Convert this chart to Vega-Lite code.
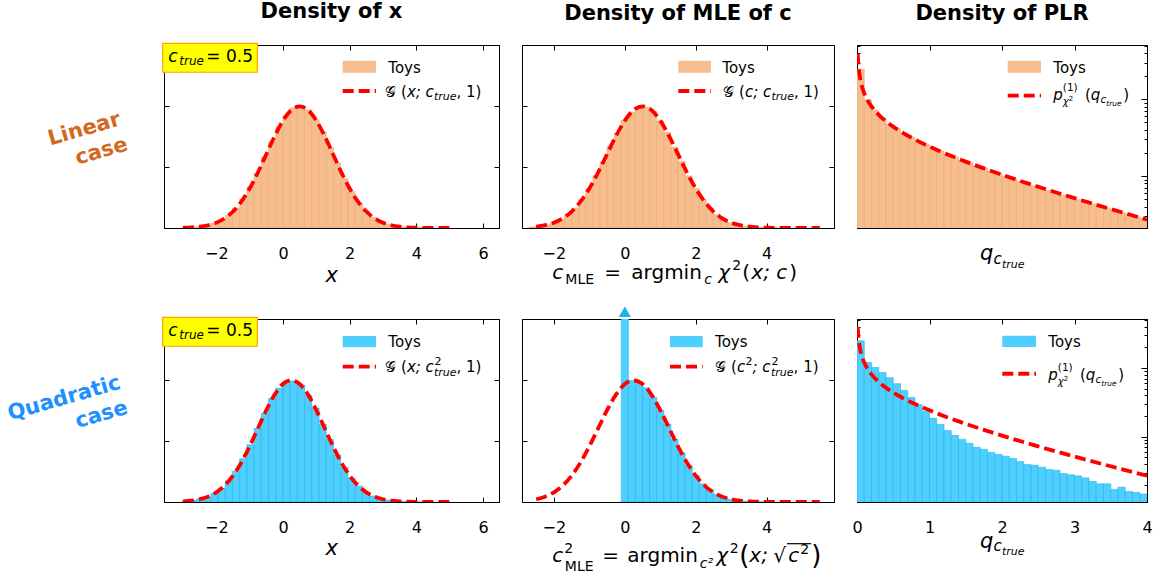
{
"$schema":"https://vega.github.io/schema/vega-lite/v6.json",
"padding":{"left":4,"top":0,"right":0,"bottom":0},
"background":"white",
"config":{
 "font":"DejaVu Sans",
 "view":{"stroke":"black","strokeWidth":1},
 "axis":{"domain":true,"domainColor":"black","domainWidth":1,"grid":false,"tickColor":"black","tickWidth":1,"tickSize":-5,"labelPadding":22,"labelFontSize":16,"labelFont":"DejaVu Sans","labelColor":"black","labelFlush":false,"labelOverlap":false,"zindex":1},
 "text":{"fill":"black","font":"DejaVu Sans"},
 "title":{"font":"DejaVu Sans","fontSize":21,"fontWeight":"bold","color":"black"}
},
"datasets":{
 "h1":[{"a":-3.031,"b":-2.815,"d":0.0013},{"a":-2.815,"b":-2.598,"d":0.0025},{"a":-2.598,"b":-2.382,"d":0.0047},{"a":-2.382,"b":-2.165,"d":0.0083},{"a":-2.165,"b":-1.949,"d":0.0155},{"a":-1.949,"b":-1.732,"d":0.0262},{"a":-1.732,"b":-1.516,"d":0.0412},{"a":-1.516,"b":-1.299,"d":0.0652},{"a":-1.299,"b":-1.083,"d":0.0948},{"a":-1.083,"b":-0.866,"d":0.1352},{"a":-0.866,"b":-0.65,"d":0.1801},{"a":-0.65,"b":-0.433,"d":0.2335},{"a":-0.433,"b":-0.217,"d":0.2826},{"a":-0.217,"b":0,"d":0.3331},{"a":0,"b":0.217,"d":0.3683},{"a":0.217,"b":0.433,"d":0.3941},{"a":0.433,"b":0.65,"d":0.3972},{"a":0.65,"b":0.866,"d":0.387},{"a":0.866,"b":1.083,"d":0.3551},{"a":1.083,"b":1.299,"d":0.3152},{"a":1.299,"b":1.516,"d":0.263},{"a":1.516,"b":1.732,"d":0.2133},{"a":1.732,"b":1.949,"d":0.1618},{"a":1.949,"b":2.165,"d":0.1195},{"a":2.165,"b":2.382,"d":0.0821},{"a":2.382,"b":2.598,"d":0.0556},{"a":2.598,"b":2.815,"d":0.0347},{"a":2.815,"b":3.031,"d":0.0215},{"a":3.031,"b":3.248,"d":0.0121},{"a":3.248,"b":3.464,"d":0.0069},{"a":3.464,"b":3.681,"d":0.0035},{"a":3.681,"b":3.897,"d":0.0018},{"a":3.897,"b":4.114,"d":0.0009},{"a":4.114,"b":4.33,"d":0.0004},{"a":4.33,"b":4.547,"d":0.0002}],
 "h4":[{"a":-3.031,"b":-2.815,"d":0.0027},{"a":-2.815,"b":-2.598,"d":0.005},{"a":-2.598,"b":-2.382,"d":0.0094},{"a":-2.382,"b":-2.165,"d":0.0163},{"a":-2.165,"b":-1.949,"d":0.0282},{"a":-1.949,"b":-1.732,"d":0.0446},{"a":-1.732,"b":-1.516,"d":0.0694},{"a":-1.516,"b":-1.299,"d":0.1005},{"a":-1.299,"b":-1.083,"d":0.142},{"a":-1.083,"b":-0.866,"d":0.1878},{"a":-0.866,"b":-0.65,"d":0.2411},{"a":-0.65,"b":-0.433,"d":0.2905},{"a":-0.433,"b":-0.217,"d":0.3392},{"a":-0.217,"b":0,"d":0.373},{"a":0,"b":0.217,"d":0.3958},{"a":0.217,"b":0.433,"d":0.3969},{"a":0.433,"b":0.65,"d":0.3835},{"a":0.65,"b":0.866,"d":0.3495},{"a":0.866,"b":1.083,"d":0.308},{"a":1.083,"b":1.299,"d":0.2551},{"a":1.299,"b":1.516,"d":0.2051},{"a":1.516,"b":1.732,"d":0.1545},{"a":1.732,"b":1.949,"d":0.1133},{"a":1.949,"b":2.165,"d":0.0776},{"a":2.165,"b":2.382,"d":0.0519},{"a":2.382,"b":2.598,"d":0.0322},{"a":2.598,"b":2.815,"d":0.0197},{"a":2.815,"b":3.031,"d":0.0111},{"a":3.031,"b":3.248,"d":0.0062},{"a":3.248,"b":3.464,"d":0.0032},{"a":3.464,"b":3.681,"d":0.0016},{"a":3.681,"b":3.897,"d":0.0008},{"a":3.897,"b":4.114,"d":0.0004},{"a":4.114,"b":4.33,"d":0.0002}],
 "h2":[{"a":-2.7,"b":-2.5,"d":0.0034},{"a":-2.5,"b":-2.3,"d":0.0061},{"a":-2.3,"b":-2.1,"d":0.0102},{"a":-2.1,"b":-1.9,"d":0.0178},{"a":-1.9,"b":-1.7,"d":0.028},{"a":-1.7,"b":-1.5,"d":0.0445},{"a":-1.5,"b":-1.3,"d":0.065},{"a":-1.3,"b":-1.1,"d":0.0946},{"a":-1.1,"b":-0.9,"d":0.1288},{"a":-0.9,"b":-0.7,"d":0.1722},{"a":-0.7,"b":-0.5,"d":0.217},{"a":-0.5,"b":-0.3,"d":0.2672},{"a":-0.3,"b":-0.1,"d":0.311},{"a":-0.1,"b":0.1,"d":0.3535},{"a":0.1,"b":0.3,"d":0.3802},{"a":0.3,"b":0.5,"d":0.3982},{"a":0.5,"b":0.7,"d":0.3961},{"a":0.7,"b":0.9,"d":0.3826},{"a":0.9,"b":1.1,"d":0.3508},{"a":1.1,"b":1.3,"d":0.3135},{"a":1.3,"b":1.5,"d":0.265},{"a":1.5,"b":1.7,"d":0.2188},{"a":1.7,"b":1.9,"d":0.1705},{"a":1.9,"b":2.1,"d":0.1301},{"a":2.1,"b":2.3,"d":0.0935},{"a":2.3,"b":2.5,"d":0.066},{"a":2.5,"b":2.7,"d":0.0437},{"a":2.7,"b":2.9,"d":0.0285},{"a":2.9,"b":3.1,"d":0.0173},{"a":3.1,"b":3.3,"d":0.0105},{"a":3.3,"b":3.5,"d":0.0059},{"a":3.5,"b":3.7,"d":0.0034},{"a":3.7,"b":3.9,"d":0.0017},{"a":3.9,"b":4.1,"d":0.0008},{"a":4.1,"b":4.3,"d":0.0004}],
 "h5":[{"a":-0.1,"b":0.1,"d":2.2},{"a":0.1,"b":0.3,"d":0.3979},{"a":0.3,"b":0.5,"d":0.395},{"a":0.5,"b":0.7,"d":0.3745},{"a":0.7,"b":0.9,"d":0.3436},{"a":0.9,"b":1.1,"d":0.3002},{"a":1.1,"b":1.3,"d":0.255},{"a":1.3,"b":1.5,"d":0.2052},{"a":1.5,"b":1.7,"d":0.161},{"a":1.7,"b":1.9,"d":0.1196},{"a":1.9,"b":2.1,"d":0.0868},{"a":2.1,"b":2.3,"d":0.0593},{"a":2.3,"b":2.5,"d":0.0398},{"a":2.5,"b":2.7,"d":0.025},{"a":2.7,"b":2.9,"d":0.0156},{"a":2.9,"b":3.1,"d":0.009},{"a":3.1,"b":3.3,"d":0.0052},{"a":3.3,"b":3.5,"d":0.0028},{"a":3.5,"b":3.7,"d":0.0015},{"a":3.7,"b":3.9,"d":0.0007},{"a":3.9,"b":4.1,"d":0.0003}],
 "h3":[{"a":0,"b":0.1,"d":2.47},{"a":0.1,"b":0.2,"d":0.985},{"a":0.2,"b":0.3,"d":0.722},{"a":0.3,"b":0.4,"d":0.571},{"a":0.4,"b":0.5,"d":0.469},{"a":0.5,"b":0.6,"d":0.412},{"a":0.6,"b":0.7,"d":0.353},{"a":0.7,"b":0.8,"d":0.321},{"a":0.8,"b":0.9,"d":0.279},{"a":0.9,"b":1.0,"d":0.257},{"a":1.0,"b":1.1,"d":0.228},{"a":1.1,"b":1.2,"d":0.212},{"a":1.2,"b":1.3,"d":0.189},{"a":1.3,"b":1.4,"d":0.176},{"a":1.4,"b":1.5,"d":0.159},{"a":1.5,"b":1.6,"d":0.149},{"a":1.6,"b":1.7,"d":0.135},{"a":1.7,"b":1.8,"d":0.127},{"a":1.8,"b":1.9,"d":0.115},{"a":1.9,"b":2.0,"d":0.109},{"a":2.0,"b":2.1,"d":0.0995},{"a":2.1,"b":2.2,"d":0.0935},{"a":2.2,"b":2.3,"d":0.0858},{"a":2.3,"b":2.4,"d":0.081},{"a":2.4,"b":2.5,"d":0.0742},{"a":2.5,"b":2.6,"d":0.0703},{"a":2.6,"b":2.7,"d":0.0647},{"a":2.7,"b":2.8,"d":0.0612},{"a":2.8,"b":2.9,"d":0.0563},{"a":2.9,"b":3.0,"d":0.0535},{"a":3.0,"b":3.1,"d":0.0492},{"a":3.1,"b":3.2,"d":0.0469},{"a":3.2,"b":3.3,"d":0.0432},{"a":3.3,"b":3.4,"d":0.0411},{"a":3.4,"b":3.5,"d":0.038},{"a":3.5,"b":3.6,"d":0.0362},{"a":3.6,"b":3.7,"d":0.0334},{"a":3.7,"b":3.8,"d":0.0318},{"a":3.8,"b":3.9,"d":0.0294},{"a":3.9,"b":4.0,"d":0.0281}],
 "h6":[{"a":0,"b":0.1,"d":2.49},{"a":0.1,"b":0.2,"d":1.205},{"a":0.2,"b":0.3,"d":1.02},{"a":0.3,"b":0.4,"d":0.86},{"a":0.4,"b":0.5,"d":0.723},{"a":0.5,"b":0.6,"d":0.592},{"a":0.6,"b":0.7,"d":0.472},{"a":0.7,"b":0.8,"d":0.371},{"a":0.8,"b":0.9,"d":0.292},{"a":0.9,"b":1.0,"d":0.235},{"a":1.0,"b":1.1,"d":0.185},{"a":1.1,"b":1.2,"d":0.151},{"a":1.2,"b":1.3,"d":0.123},{"a":1.3,"b":1.4,"d":0.104},{"a":1.4,"b":1.5,"d":0.0914},{"a":1.5,"b":1.6,"d":0.08},{"a":1.6,"b":1.7,"d":0.07},{"a":1.7,"b":1.8,"d":0.0654},{"a":1.8,"b":1.9,"d":0.0592},{"a":1.9,"b":2.0,"d":0.0554},{"a":2.0,"b":2.1,"d":0.052},{"a":2.1,"b":2.2,"d":0.048},{"a":2.2,"b":2.3,"d":0.0434},{"a":2.3,"b":2.4,"d":0.0393},{"a":2.4,"b":2.5,"d":0.0384},{"a":2.5,"b":2.6,"d":0.0359},{"a":2.6,"b":2.7,"d":0.0332},{"a":2.7,"b":2.8,"d":0.0325},{"a":2.8,"b":2.9,"d":0.029},{"a":2.9,"b":3.0,"d":0.0278},{"a":3.0,"b":3.1,"d":0.0269},{"a":3.1,"b":3.2,"d":0.0251},{"a":3.2,"b":3.3,"d":0.0223},{"a":3.3,"b":3.4,"d":0.0206},{"a":3.4,"b":3.5,"d":0.0206},{"a":3.5,"b":3.6,"d":0.0171},{"a":3.6,"b":3.7,"d":0.0184},{"a":3.7,"b":3.8,"d":0.0159},{"a":3.8,"b":3.9,"d":0.0154},{"a":3.9,"b":4.0,"d":0.0146}],
 "g1":[{"x":-3,"y":0.0009},{"x":-2.75,"y":0.002},{"x":-2.5,"y":0.0044},{"x":-2.25,"y":0.0091},{"x":-2,"y":0.0175},{"x":-1.75,"y":0.0317},{"x":-1.5,"y":0.054},{"x":-1.25,"y":0.0863},{"x":-1,"y":0.1295},{"x":-0.75,"y":0.1826},{"x":-0.5,"y":0.242},{"x":-0.25,"y":0.3011},{"x":0,"y":0.3521},{"x":0.25,"y":0.3867},{"x":0.5,"y":0.3989},{"x":0.75,"y":0.3867},{"x":1,"y":0.3521},{"x":1.25,"y":0.3011},{"x":1.5,"y":0.242},{"x":1.75,"y":0.1826},{"x":2,"y":0.1295},{"x":2.25,"y":0.0863},{"x":2.5,"y":0.054},{"x":2.75,"y":0.0317},{"x":3,"y":0.0175},{"x":3.25,"y":0.0091},{"x":3.5,"y":0.0044},{"x":3.75,"y":0.002},{"x":4,"y":0.0009},{"x":4.25,"y":0.0004},{"x":4.5,"y":0.0001},{"x":4.75,"y":0},{"x":5,"y":0}],
 "g2":[{"x":-2.5,"y":0.0044},{"x":-2.25,"y":0.0091},{"x":-2,"y":0.0175},{"x":-1.75,"y":0.0317},{"x":-1.5,"y":0.054},{"x":-1.25,"y":0.0863},{"x":-1,"y":0.1295},{"x":-0.75,"y":0.1826},{"x":-0.5,"y":0.242},{"x":-0.25,"y":0.3011},{"x":0,"y":0.3521},{"x":0.25,"y":0.3867},{"x":0.5,"y":0.3989},{"x":0.75,"y":0.3867},{"x":1,"y":0.3521},{"x":1.25,"y":0.3011},{"x":1.5,"y":0.242},{"x":1.75,"y":0.1826},{"x":2,"y":0.1295},{"x":2.25,"y":0.0863},{"x":2.5,"y":0.054},{"x":2.75,"y":0.0317},{"x":3,"y":0.0175},{"x":3.25,"y":0.0091},{"x":3.5,"y":0.0044},{"x":3.75,"y":0.002},{"x":4,"y":0.0009},{"x":4.25,"y":0.0004},{"x":4.5,"y":0.0001},{"x":4.75,"y":0},{"x":5,"y":0},{"x":5.25,"y":0},{"x":5.5,"y":0}],
 "g4":[{"x":-3,"y":0.002},{"x":-2.75,"y":0.0044},{"x":-2.5,"y":0.0091},{"x":-2.25,"y":0.0175},{"x":-2,"y":0.0317},{"x":-1.75,"y":0.054},{"x":-1.5,"y":0.0863},{"x":-1.25,"y":0.1295},{"x":-1,"y":0.1826},{"x":-0.75,"y":0.242},{"x":-0.5,"y":0.3011},{"x":-0.25,"y":0.3521},{"x":0,"y":0.3867},{"x":0.25,"y":0.3989},{"x":0.5,"y":0.3867},{"x":0.75,"y":0.3521},{"x":1,"y":0.3011},{"x":1.25,"y":0.242},{"x":1.5,"y":0.1826},{"x":1.75,"y":0.1295},{"x":2,"y":0.0863},{"x":2.25,"y":0.054},{"x":2.5,"y":0.0317},{"x":2.75,"y":0.0175},{"x":3,"y":0.0091},{"x":3.25,"y":0.0044},{"x":3.5,"y":0.002},{"x":3.75,"y":0.0009},{"x":4,"y":0.0004},{"x":4.25,"y":0.0001},{"x":4.5,"y":0},{"x":4.75,"y":0},{"x":5,"y":0}],
 "g5":[{"x":-2.5,"y":0.0091},{"x":-2.25,"y":0.0175},{"x":-2,"y":0.0317},{"x":-1.75,"y":0.054},{"x":-1.5,"y":0.0863},{"x":-1.25,"y":0.1295},{"x":-1,"y":0.1826},{"x":-0.75,"y":0.242},{"x":-0.5,"y":0.3011},{"x":-0.25,"y":0.3521},{"x":0,"y":0.3867},{"x":0.25,"y":0.3989},{"x":0.5,"y":0.3867},{"x":0.75,"y":0.3521},{"x":1,"y":0.3011},{"x":1.25,"y":0.242},{"x":1.5,"y":0.1826},{"x":1.75,"y":0.1295},{"x":2,"y":0.0863},{"x":2.25,"y":0.054},{"x":2.5,"y":0.0317},{"x":2.75,"y":0.0175},{"x":3,"y":0.0091},{"x":3.25,"y":0.0044},{"x":3.5,"y":0.002},{"x":3.75,"y":0.0009},{"x":4,"y":0.0004},{"x":4.25,"y":0.0001},{"x":4.5,"y":0},{"x":4.75,"y":0},{"x":5,"y":0},{"x":5.25,"y":0},{"x":5.5,"y":0}],
 "chi":[{"x":0.01,"y":3.97},{"x":0.015,"y":3.233},{"x":0.02,"y":2.793},{"x":0.03,"y":2.269},{"x":0.04,"y":1.955},{"x":0.05,"y":1.74},{"x":0.075,"y":1.403},{"x":0.1,"y":1.2},{"x":0.15,"y":0.9556},{"x":0.2,"y":0.8071},{"x":0.3,"y":0.6269},{"x":0.4,"y":0.5164},{"x":0.5,"y":0.4394},{"x":0.6,"y":0.3815},{"x":0.8,"y":0.299},{"x":1.0,"y":0.242},{"x":1.25,"y":0.191},{"x":1.5,"y":0.1539},{"x":1.75,"y":0.1257},{"x":2.0,"y":0.1038},{"x":2.5,"y":0.0723},{"x":3.0,"y":0.0514},{"x":3.5,"y":0.0371},{"x":4.0,"y":0.027}]
},
"columns":3,
"spacing":{"row":91,"column":23},
"align":"each",
"bounds":"flush",
"concat":[
 {"width":335,"height":183,
  "title":{"text":"Density of x","anchor":"middle","frame":"group","offset":4,"baseline":"alphabetic"},
  "resolve":{"axis":{"x":"independent","y":"independent"}},
  "layer":[
   {"data":{"name":"h1"},"mark":{"type":"bar","fill":"#F6BE8E","stroke":"#EFAA70","strokeWidth":0.6,"clip":true},
    "encoding":{"x":{"field":"a","type":"quantitative","scale":{"domain":[-3.57,6.48],"nice":false,"zero":false},"axis":{"orient":"bottom","values":[-2,0,2,4,6],"title":null}},"x2":{"field":"b"},
     "y":{"field":"d","type":"quantitative","scale":{"domain":[0,0.6],"nice":false,"zero":false},"axis":{"orient":"left","values":[0,0.2,0.4],"labels":false,"title":null}},"y2":{"datum":0}}},
   {"data":{"name":"g1"},"mark":{"type":"line","stroke":"#FF0000","strokeWidth":3.8,"strokeDash":[11,5],"interpolate":"monotone","clip":true},
    "encoding":{"x":{"field":"x","type":"quantitative","axis":{"orient":"top","values":[-2,0,2,4,6],"labels":false,"title":null}},"y":{"field":"y","type":"quantitative","axis":{"orient":"right","values":[0,0.2,0.4],"labels":false,"title":null}}}},
   {"data":{"values":[{}]},"mark":{"type":"rect","fill":"#FFFF00","stroke":"#FFA500","strokeWidth":1.2},"encoding":{"x":{"datum":-3.61,"type":"quantitative","axis":null},"x2":{"datum":-0.77},"y":{"datum":0.6056,"type":"quantitative","axis":null},"y2":{"datum":0.5106}}},
   {"data":{"values":[{}]},"mark":{"type":"text","text":"c","fontSize":17,"fontStyle":"italic","align":"left","baseline":"alphabetic"},"encoding":{"x":{"datum":-3.44,"type":"quantitative","axis":null},"y":{"datum":0.5453,"type":"quantitative","axis":null}}},
   {"data":{"values":[{}]},"mark":{"type":"text","text":"true","fontSize":12,"fontStyle":"italic","align":"left","baseline":"alphabetic","dx":11,"dy":3},"encoding":{"x":{"datum":-3.44,"type":"quantitative","axis":null},"y":{"datum":0.5453,"type":"quantitative","axis":null}}},
   {"data":{"values":[{}]},"mark":{"type":"text","text":"= 0.5","fontSize":17,"align":"left","baseline":"alphabetic","dx":38},"encoding":{"x":{"datum":-3.44,"type":"quantitative","axis":null},"y":{"datum":0.5453,"type":"quantitative","axis":null}}},
   {"data":{"values":[{}]},"mark":{"type":"rect","fill":"#F6BE8E"},"encoding":{"x":{"datum":1.791,"type":"quantitative","axis":null},"x2":{"datum":2.79},"y":{"datum":0.5486,"type":"quantitative","axis":null},"y2":{"datum":0.5092}}},
   {"data":{"values":[{}]},"mark":{"type":"text","text":"Toys","fontSize":15,"align":"left","baseline":"alphabetic"},"encoding":{"x":{"datum":3.159,"type":"quantitative","axis":null},"y":{"datum":0.5092,"type":"quantitative","axis":null}}},
   {"data":{"values":[{}]},"mark":{"type":"rule","stroke":"#FF0000","strokeWidth":3.8,"strokeDash":[11,5]},"encoding":{"x":{"datum":1.791,"type":"quantitative","axis":null},"x2":{"datum":2.79},"y":{"datum":0.4492,"type":"quantitative","axis":null}}},
   {"data":{"values":[{}]},"mark":{"type":"text","text":"𝒢","fontSize":15,"align":"left","baseline":"alphabetic"},"encoding":{"x":{"datum":3.06,"type":"quantitative","axis":null},"y":{"datum":0.4305,"type":"quantitative","axis":null}}},
   {"data":{"values":[{}]},"mark":{"type":"text","text":"(","fontSize":15,"align":"left","baseline":"alphabetic","dx":16},"encoding":{"x":{"datum":3.06,"type":"quantitative","axis":null},"y":{"datum":0.4305,"type":"quantitative","axis":null}}},
   {"data":{"values":[{}]},"mark":{"type":"text","text":"x; c","fontSize":15,"fontStyle":"italic","align":"left","baseline":"alphabetic","dx":21.9},"encoding":{"x":{"datum":3.06,"type":"quantitative","axis":null},"y":{"datum":0.4305,"type":"quantitative","axis":null}}},
   {"data":{"values":[{}]},"mark":{"type":"text","text":"true","fontSize":11,"fontStyle":"italic","align":"left","baseline":"alphabetic","dx":49,"dy":3},"encoding":{"x":{"datum":3.06,"type":"quantitative","axis":null},"y":{"datum":0.4305,"type":"quantitative","axis":null}}},
   {"data":{"values":[{}]},"mark":{"type":"text","text":", 1)","fontSize":15,"align":"left","baseline":"alphabetic","dx":71.5},"encoding":{"x":{"datum":3.06,"type":"quantitative","axis":null},"y":{"datum":0.4305,"type":"quantitative","axis":null}}},
   {"data":{"values":[{}]},"mark":{"type":"text","text":"x","fontSize":21,"fontStyle":"italic","align":"center","baseline":"alphabetic"},"encoding":{"x":{"datum":1.461,"type":"quantitative","axis":null},"y":{"datum":-0.176,"type":"quantitative","axis":null}}},
   {"data":{"values":[{}]},"mark":{"type":"text","text":["Linear","case"],"fontSize":21,"fontWeight":"bold","fill":"#D2691E","align":"right","baseline":"alphabetic","angle":344,"lineHeight":26},"encoding":{"x":{"datum":-4.84,"type":"quantitative","axis":null},"y":{"datum":0.3377,"type":"quantitative","axis":null}}}
  ]},
 {"width":312,"height":183,
  "title":{"text":"Density of MLE of c","anchor":"middle","frame":"group","offset":4,"baseline":"alphabetic"},
  "resolve":{"axis":{"x":"independent","y":"independent"}},
  "layer":[
   {"data":{"name":"h2"},"mark":{"type":"bar","fill":"#F6BE8E","stroke":"#EFAA70","strokeWidth":0.6,"clip":true},
    "encoding":{"x":{"field":"a","type":"quantitative","scale":{"domain":[-2.9,5.9],"nice":false,"zero":false},"axis":{"orient":"bottom","values":[-2,0,2,4],"title":null}},"x2":{"field":"b"},
     "y":{"field":"d","type":"quantitative","scale":{"domain":[0,0.6],"nice":false,"zero":false},"axis":{"orient":"left","values":[0,0.2,0.4],"labels":false,"title":null}},"y2":{"datum":0}}},
   {"data":{"name":"g2"},"mark":{"type":"line","stroke":"#FF0000","strokeWidth":3.8,"strokeDash":[11,5],"interpolate":"monotone","clip":true},
    "encoding":{"x":{"field":"x","type":"quantitative","axis":{"orient":"top","values":[-2,0,2,4],"labels":false,"title":null}},"y":{"field":"y","type":"quantitative","axis":{"orient":"right","values":[0,0.2,0.4],"labels":false,"title":null}}}},
   {"data":{"values":[{}]},"mark":{"type":"rect","fill":"#F6BE8E"},"encoding":{"x":{"datum":1.509,"type":"quantitative","axis":null},"x2":{"datum":2.431},"y":{"datum":0.5486,"type":"quantitative","axis":null},"y2":{"datum":0.5092}}},
   {"data":{"values":[{}]},"mark":{"type":"text","text":"Toys","fontSize":15,"align":"left","baseline":"alphabetic"},"encoding":{"x":{"datum":2.75,"type":"quantitative","axis":null},"y":{"datum":0.5092,"type":"quantitative","axis":null}}},
   {"data":{"values":[{}]},"mark":{"type":"rule","stroke":"#FF0000","strokeWidth":3.8,"strokeDash":[11,5]},"encoding":{"x":{"datum":1.509,"type":"quantitative","axis":null},"x2":{"datum":2.431},"y":{"datum":0.4492,"type":"quantitative","axis":null}}},
   {"data":{"values":[{}]},"mark":{"type":"text","text":"𝒢","fontSize":15,"align":"left","baseline":"alphabetic"},"encoding":{"x":{"datum":2.77,"type":"quantitative","axis":null},"y":{"datum":0.4305,"type":"quantitative","axis":null}}},
   {"data":{"values":[{}]},"mark":{"type":"text","text":"(","fontSize":15,"align":"left","baseline":"alphabetic","dx":16},"encoding":{"x":{"datum":2.77,"type":"quantitative","axis":null},"y":{"datum":0.4305,"type":"quantitative","axis":null}}},
   {"data":{"values":[{}]},"mark":{"type":"text","text":"c; c","fontSize":15,"fontStyle":"italic","align":"left","baseline":"alphabetic","dx":21.9},"encoding":{"x":{"datum":2.77,"type":"quantitative","axis":null},"y":{"datum":0.4305,"type":"quantitative","axis":null}}},
   {"data":{"values":[{}]},"mark":{"type":"text","text":"true","fontSize":11,"fontStyle":"italic","align":"left","baseline":"alphabetic","dx":48.5,"dy":3},"encoding":{"x":{"datum":2.77,"type":"quantitative","axis":null},"y":{"datum":0.4305,"type":"quantitative","axis":null}}},
   {"data":{"values":[{}]},"mark":{"type":"text","text":", 1)","fontSize":15,"align":"left","baseline":"alphabetic","dx":71},"encoding":{"x":{"datum":2.77,"type":"quantitative","axis":null},"y":{"datum":0.4305,"type":"quantitative","axis":null}}},
   {"data":{"values":[{}]},"mark":{"type":"text","text":"c","fontSize":20,"fontStyle":"italic","align":"left","baseline":"alphabetic"},"encoding":{"x":{"datum":-2.045,"type":"quantitative","axis":null},"y":{"datum":-0.1672,"type":"quantitative","axis":null}}},
   {"data":{"values":[{}]},"mark":{"type":"text","text":"MLE","fontSize":14,"align":"left","baseline":"alphabetic","dx":13,"dy":5},"encoding":{"x":{"datum":-2.045,"type":"quantitative","axis":null},"y":{"datum":-0.1672,"type":"quantitative","axis":null}}},
   {"data":{"values":[{}]},"mark":{"type":"text","text":"=","fontSize":20,"align":"left","baseline":"alphabetic","dx":52},"encoding":{"x":{"datum":-2.045,"type":"quantitative","axis":null},"y":{"datum":-0.1672,"type":"quantitative","axis":null}}},
   {"data":{"values":[{}]},"mark":{"type":"text","text":"argmin","fontSize":20,"align":"left","baseline":"alphabetic","dx":79},"encoding":{"x":{"datum":-2.045,"type":"quantitative","axis":null},"y":{"datum":-0.1672,"type":"quantitative","axis":null}}},
   {"data":{"values":[{}]},"mark":{"type":"text","text":"c","fontSize":14,"fontStyle":"italic","align":"left","baseline":"alphabetic","dx":152,"dy":5},"encoding":{"x":{"datum":-2.045,"type":"quantitative","axis":null},"y":{"datum":-0.1672,"type":"quantitative","axis":null}}},
   {"data":{"values":[{}]},"mark":{"type":"text","text":"χ","fontSize":20,"fontStyle":"italic","align":"left","baseline":"alphabetic","dx":166},"encoding":{"x":{"datum":-2.045,"type":"quantitative","axis":null},"y":{"datum":-0.1672,"type":"quantitative","axis":null}}},
   {"data":{"values":[{}]},"mark":{"type":"text","text":"2","fontSize":14,"align":"left","baseline":"alphabetic","dx":180,"dy":-9},"encoding":{"x":{"datum":-2.045,"type":"quantitative","axis":null},"y":{"datum":-0.1672,"type":"quantitative","axis":null}}},
   {"data":{"values":[{}]},"mark":{"type":"text","text":"(","fontSize":20,"align":"left","baseline":"alphabetic","dx":190},"encoding":{"x":{"datum":-2.045,"type":"quantitative","axis":null},"y":{"datum":-0.1672,"type":"quantitative","axis":null}}},
   {"data":{"values":[{}]},"mark":{"type":"text","text":"x;","fontSize":20,"fontStyle":"italic","align":"left","baseline":"alphabetic","dx":199},"encoding":{"x":{"datum":-2.045,"type":"quantitative","axis":null},"y":{"datum":-0.1672,"type":"quantitative","axis":null}}},
   {"data":{"values":[{}]},"mark":{"type":"text","text":"c","fontSize":20,"fontStyle":"italic","align":"left","baseline":"alphabetic","dx":224},"encoding":{"x":{"datum":-2.045,"type":"quantitative","axis":null},"y":{"datum":-0.1672,"type":"quantitative","axis":null}}},
   {"data":{"values":[{}]},"mark":{"type":"text","text":")","fontSize":20,"align":"left","baseline":"alphabetic","dx":237},"encoding":{"x":{"datum":-2.045,"type":"quantitative","axis":null},"y":{"datum":-0.1672,"type":"quantitative","axis":null}}}
  ]},
 {"width":290,"height":183,
  "title":{"text":"Density of PLR","anchor":"middle","frame":"group","offset":4,"baseline":"alphabetic"},
  "resolve":{"axis":{"x":"independent","y":"independent"}},
  "layer":[
   {"data":{"name":"h3"},"mark":{"type":"bar","fill":"#F6BE8E","stroke":"#EFAA70","strokeWidth":0.6,"clip":true},
    "encoding":{"x":{"field":"a","type":"quantitative","scale":{"domain":[0,4],"nice":false,"zero":false},"axis":{"orient":"bottom","values":[0,1,2,3,4],"labels":false,"title":null}},"x2":{"field":"b"},
     "y":{"field":"d","type":"quantitative","scale":{"type":"log","domain":[0.021,5.1],"nice":false},"axis":{"orient":"left","values":[0.1,1],"tickSize":-6,"labels":false,"title":null}},"y2":{"datum":0.001}}},
   {"data":{"name":"chi"},"mark":{"type":"line","stroke":"#FF0000","strokeWidth":3.8,"strokeDash":[11,5],"interpolate":"monotone","clip":true},
    "encoding":{"x":{"field":"x","type":"quantitative","axis":{"orient":"top","values":[0,1,2,3,4],"labels":false,"title":null}},"y":{"field":"y","type":"quantitative","scale":{"type":"log"},"axis":{"orient":"right","values":[0.1,1],"tickSize":-6,"labels":false,"title":null}}}},
   {"data":{"values":[{}]},"mark":{"type":"rect","fill":"#F6BE8E"},"encoding":{"x":{"datum":2.079,"type":"quantitative","axis":null},"x2":{"datum":2.538},"y":{"datum":3.186,"type":"quantitative","scale":{"type":"log"},"axis":{"orient":"left","values":[0.03,0.04,0.05,0.06,0.07,0.08,0.09,0.2,0.3,0.4,0.5,0.6,0.7,0.8,0.9,2,3,4,5],"tickSize":-3,"labels":false,"title":null}},"y2":{"datum":2.222}}},
   {"data":{"values":[{}]},"mark":{"type":"rule","stroke":"#FF0000","strokeWidth":3.8,"strokeDash":[11,5]},"encoding":{"x":{"datum":2.079,"type":"quantitative","axis":null},"x2":{"datum":2.538},"y":{"datum":1.114,"type":"quantitative","scale":{"type":"log"},"axis":{"orient":"right","values":[0.03,0.04,0.05,0.06,0.07,0.08,0.09,0.2,0.3,0.4,0.5,0.6,0.7,0.8,0.9,2,3,4,5],"tickSize":-3,"labels":false,"title":null}}}},
   {"data":{"values":[{}]},"mark":{"type":"text","text":"Toys","fontSize":15,"align":"left","baseline":"alphabetic"},"encoding":{"x":{"datum":2.708,"type":"quantitative","axis":null},"y":{"datum":2.222,"type":"quantitative","scale":{"type":"log"},"axis":null}}},
   {"data":{"values":[{}]},"mark":{"type":"text","text":"p","fontSize":15,"fontStyle":"italic","align":"left","baseline":"alphabetic"},"encoding":{"x":{"datum":2.708,"type":"quantitative","axis":null},"y":{"datum":0.979,"type":"quantitative","scale":{"type":"log"},"axis":null}}},
   {"data":{"values":[{}]},"mark":{"type":"text","text":"(1)","fontSize":10.5,"align":"left","baseline":"alphabetic","dx":9.5,"dy":-9},"encoding":{"x":{"datum":2.708,"type":"quantitative","axis":null},"y":{"datum":0.979,"type":"quantitative","scale":{"type":"log"},"axis":null}}},
   {"data":{"values":[{}]},"mark":{"type":"text","text":"χ","fontSize":10,"fontStyle":"italic","align":"left","baseline":"alphabetic","dx":9.5,"dy":5},"encoding":{"x":{"datum":2.708,"type":"quantitative","axis":null},"y":{"datum":0.979,"type":"quantitative","scale":{"type":"log"},"axis":null}}},
   {"data":{"values":[{}]},"mark":{"type":"text","text":"2","fontSize":7,"align":"left","baseline":"alphabetic","dx":15.5,"dy":1},"encoding":{"x":{"datum":2.708,"type":"quantitative","axis":null},"y":{"datum":0.979,"type":"quantitative","scale":{"type":"log"},"axis":null}}},
   {"data":{"values":[{}]},"mark":{"type":"text","text":"(","fontSize":15,"align":"left","baseline":"alphabetic","dx":31.7},"encoding":{"x":{"datum":2.708,"type":"quantitative","axis":null},"y":{"datum":0.979,"type":"quantitative","scale":{"type":"log"},"axis":null}}},
   {"data":{"values":[{}]},"mark":{"type":"text","text":"q","fontSize":15,"fontStyle":"italic","align":"left","baseline":"alphabetic","dx":37.5},"encoding":{"x":{"datum":2.708,"type":"quantitative","axis":null},"y":{"datum":0.979,"type":"quantitative","scale":{"type":"log"},"axis":null}}},
   {"data":{"values":[{}]},"mark":{"type":"text","text":"c","fontSize":10.5,"fontStyle":"italic","align":"left","baseline":"alphabetic","dx":47.2,"dy":3},"encoding":{"x":{"datum":2.708,"type":"quantitative","axis":null},"y":{"datum":0.979,"type":"quantitative","scale":{"type":"log"},"axis":null}}},
   {"data":{"values":[{}]},"mark":{"type":"text","text":"true","fontSize":7.5,"fontStyle":"italic","align":"left","baseline":"alphabetic","dx":53,"dy":6},"encoding":{"x":{"datum":2.708,"type":"quantitative","axis":null},"y":{"datum":0.979,"type":"quantitative","scale":{"type":"log"},"axis":null}}},
   {"data":{"values":[{}]},"mark":{"type":"text","text":")","fontSize":15,"align":"left","baseline":"alphabetic","dx":70},"encoding":{"x":{"datum":2.708,"type":"quantitative","axis":null},"y":{"datum":0.979,"type":"quantitative","scale":{"type":"log"},"axis":null}}},
   {"data":{"values":[{}]},"mark":{"type":"text","text":"q","fontSize":21,"fontStyle":"italic","align":"left","baseline":"alphabetic"},"encoding":{"x":{"datum":1.697,"type":"quantitative","axis":null},"y":{"datum":0.00803,"type":"quantitative","scale":{"type":"log"},"axis":null}}},
   {"data":{"values":[{}]},"mark":{"type":"text","text":"c","fontSize":15,"fontStyle":"italic","align":"left","baseline":"alphabetic","dx":13.5,"dy":3.5},"encoding":{"x":{"datum":1.697,"type":"quantitative","axis":null},"y":{"datum":0.00803,"type":"quantitative","scale":{"type":"log"},"axis":null}}},
   {"data":{"values":[{}]},"mark":{"type":"text","text":"true","fontSize":11,"fontStyle":"italic","align":"left","baseline":"alphabetic","dx":22,"dy":7.5},"encoding":{"x":{"datum":1.697,"type":"quantitative","axis":null},"y":{"datum":0.00803,"type":"quantitative","scale":{"type":"log"},"axis":null}}}
  ]},
 {"width":335,"height":183,
  "resolve":{"axis":{"x":"independent","y":"independent"}},
  "layer":[
   {"data":{"name":"h4"},"mark":{"type":"bar","fill":"#4FCFFD","stroke":"#1FB6EE","strokeWidth":0.6,"clip":true},
    "encoding":{"x":{"field":"a","type":"quantitative","scale":{"domain":[-3.57,6.48],"nice":false,"zero":false},"axis":{"orient":"bottom","values":[-2,0,2,4,6],"title":null}},"x2":{"field":"b"},
     "y":{"field":"d","type":"quantitative","scale":{"domain":[0,0.6],"nice":false,"zero":false},"axis":{"orient":"left","values":[0,0.2,0.4],"labels":false,"title":null}},"y2":{"datum":0}}},
   {"data":{"name":"g4"},"mark":{"type":"line","stroke":"#FF0000","strokeWidth":3.8,"strokeDash":[11,5],"interpolate":"monotone","clip":true},
    "encoding":{"x":{"field":"x","type":"quantitative","axis":{"orient":"top","values":[-2,0,2,4,6],"labels":false,"title":null}},"y":{"field":"y","type":"quantitative","axis":{"orient":"right","values":[0,0.2,0.4],"labels":false,"title":null}}}},
   {"data":{"values":[{}]},"mark":{"type":"rect","fill":"#FFFF00","stroke":"#FFA500","strokeWidth":1.2},"encoding":{"x":{"datum":-3.61,"type":"quantitative","axis":null},"x2":{"datum":-0.77},"y":{"datum":0.6056,"type":"quantitative","axis":null},"y2":{"datum":0.5106}}},
   {"data":{"values":[{}]},"mark":{"type":"text","text":"c","fontSize":17,"fontStyle":"italic","align":"left","baseline":"alphabetic"},"encoding":{"x":{"datum":-3.44,"type":"quantitative","axis":null},"y":{"datum":0.5453,"type":"quantitative","axis":null}}},
   {"data":{"values":[{}]},"mark":{"type":"text","text":"true","fontSize":12,"fontStyle":"italic","align":"left","baseline":"alphabetic","dx":11,"dy":3},"encoding":{"x":{"datum":-3.44,"type":"quantitative","axis":null},"y":{"datum":0.5453,"type":"quantitative","axis":null}}},
   {"data":{"values":[{}]},"mark":{"type":"text","text":"= 0.5","fontSize":17,"align":"left","baseline":"alphabetic","dx":38},"encoding":{"x":{"datum":-3.44,"type":"quantitative","axis":null},"y":{"datum":0.5453,"type":"quantitative","axis":null}}},
   {"data":{"values":[{}]},"mark":{"type":"rect","fill":"#4FCFFD"},"encoding":{"x":{"datum":1.791,"type":"quantitative","axis":null},"x2":{"datum":2.79},"y":{"datum":0.5443,"type":"quantitative","axis":null},"y2":{"datum":0.5073}}},
   {"data":{"values":[{}]},"mark":{"type":"text","text":"Toys","fontSize":15,"align":"left","baseline":"alphabetic"},"encoding":{"x":{"datum":3.159,"type":"quantitative","axis":null},"y":{"datum":0.5073,"type":"quantitative","axis":null}}},
   {"data":{"values":[{}]},"mark":{"type":"rule","stroke":"#FF0000","strokeWidth":3.8,"strokeDash":[11,5]},"encoding":{"x":{"datum":1.791,"type":"quantitative","axis":null},"x2":{"datum":2.79},"y":{"datum":0.4437,"type":"quantitative","axis":null}}},
   {"data":{"values":[{}]},"mark":{"type":"text","text":"𝒢","fontSize":15,"align":"left","baseline":"alphabetic"},"encoding":{"x":{"datum":3.06,"type":"quantitative","axis":null},"y":{"datum":0.4273,"type":"quantitative","axis":null}}},
   {"data":{"values":[{}]},"mark":{"type":"text","text":"(","fontSize":15,"align":"left","baseline":"alphabetic","dx":16},"encoding":{"x":{"datum":3.06,"type":"quantitative","axis":null},"y":{"datum":0.4273,"type":"quantitative","axis":null}}},
   {"data":{"values":[{}]},"mark":{"type":"text","text":"x; c","fontSize":15,"fontStyle":"italic","align":"left","baseline":"alphabetic","dx":21.9},"encoding":{"x":{"datum":3.06,"type":"quantitative","axis":null},"y":{"datum":0.4273,"type":"quantitative","axis":null}}},
   {"data":{"values":[{}]},"mark":{"type":"text","text":"2","fontSize":11,"align":"left","baseline":"alphabetic","dx":49.5,"dy":-7},"encoding":{"x":{"datum":3.06,"type":"quantitative","axis":null},"y":{"datum":0.4273,"type":"quantitative","axis":null}}},
   {"data":{"values":[{}]},"mark":{"type":"text","text":"true","fontSize":11,"fontStyle":"italic","align":"left","baseline":"alphabetic","dx":49,"dy":4},"encoding":{"x":{"datum":3.06,"type":"quantitative","axis":null},"y":{"datum":0.4273,"type":"quantitative","axis":null}}},
   {"data":{"values":[{}]},"mark":{"type":"text","text":", 1)","fontSize":15,"align":"left","baseline":"alphabetic","dx":71.5},"encoding":{"x":{"datum":3.06,"type":"quantitative","axis":null},"y":{"datum":0.4273,"type":"quantitative","axis":null}}},
   {"data":{"values":[{}]},"mark":{"type":"text","text":"x","fontSize":21,"fontStyle":"italic","align":"center","baseline":"alphabetic"},"encoding":{"x":{"datum":1.461,"type":"quantitative","axis":null},"y":{"datum":-0.1738,"type":"quantitative","axis":null}}},
   {"data":{"values":[{}]},"mark":{"type":"text","text":["Quadratic","case"],"fontSize":21,"fontWeight":"bold","fill":"#1E90FF","align":"right","baseline":"alphabetic","angle":344,"lineHeight":26},"encoding":{"x":{"datum":-4.84,"type":"quantitative","axis":null},"y":{"datum":0.3728,"type":"quantitative","axis":null}}}
  ]},
 {"width":312,"height":183,
  "resolve":{"axis":{"x":"independent","y":"independent"}},
  "layer":[
   {"data":{"name":"h5"},"mark":{"type":"bar","fill":"#4FCFFD","stroke":"#1FB6EE","strokeWidth":0.6,"clip":true},
    "encoding":{"x":{"field":"a","type":"quantitative","scale":{"domain":[-2.9,5.9],"nice":false,"zero":false},"axis":{"orient":"bottom","values":[-2,0,2,4],"title":null}},"x2":{"field":"b"},
     "y":{"field":"d","type":"quantitative","scale":{"domain":[0,0.6],"nice":false,"zero":false},"axis":{"orient":"left","values":[0,0.2,0.4],"labels":false,"title":null}},"y2":{"datum":0}}},
   {"data":{"name":"g5"},"mark":{"type":"line","stroke":"#FF0000","strokeWidth":3.8,"strokeDash":[11,5],"interpolate":"monotone","clip":true},
    "encoding":{"x":{"field":"x","type":"quantitative","axis":{"orient":"top","values":[-2,0,2,4],"labels":false,"title":null}},"y":{"field":"y","type":"quantitative","axis":{"orient":"right","values":[0,0.2,0.4],"labels":false,"title":null}}}},
   {"data":{"values":[{}]},"mark":{"type":"point","shape":"triangle-up","filled":true,"fill":"#19B3EE","size":150,"opacity":1,"strokeWidth":0},"encoding":{"x":{"datum":0,"type":"quantitative","axis":null},"y":{"datum":0.624,"type":"quantitative","axis":null}}},
   {"data":{"values":[{}]},"mark":{"type":"rect","fill":"#4FCFFD"},"encoding":{"x":{"datum":1.275,"type":"quantitative","axis":null},"x2":{"datum":2.197},"y":{"datum":0.5443,"type":"quantitative","axis":null},"y2":{"datum":0.5073}}},
   {"data":{"values":[{}]},"mark":{"type":"text","text":"Toys","fontSize":15,"align":"left","baseline":"alphabetic"},"encoding":{"x":{"datum":2.544,"type":"quantitative","axis":null},"y":{"datum":0.5073,"type":"quantitative","axis":null}}},
   {"data":{"values":[{}]},"mark":{"type":"rule","stroke":"#FF0000","strokeWidth":3.8,"strokeDash":[11,5]},"encoding":{"x":{"datum":1.275,"type":"quantitative","axis":null},"x2":{"datum":2.197},"y":{"datum":0.4437,"type":"quantitative","axis":null}}},
   {"data":{"values":[{}]},"mark":{"type":"text","text":"𝒢","fontSize":15,"align":"left","baseline":"alphabetic"},"encoding":{"x":{"datum":2.544,"type":"quantitative","axis":null},"y":{"datum":0.4273,"type":"quantitative","axis":null}}},
   {"data":{"values":[{}]},"mark":{"type":"text","text":"(","fontSize":15,"align":"left","baseline":"alphabetic","dx":16},"encoding":{"x":{"datum":2.544,"type":"quantitative","axis":null},"y":{"datum":0.4273,"type":"quantitative","axis":null}}},
   {"data":{"values":[{}]},"mark":{"type":"text","text":"c","fontSize":15,"fontStyle":"italic","align":"left","baseline":"alphabetic","dx":21.9},"encoding":{"x":{"datum":2.544,"type":"quantitative","axis":null},"y":{"datum":0.4273,"type":"quantitative","axis":null}}},
   {"data":{"values":[{}]},"mark":{"type":"text","text":"2","fontSize":11,"align":"left","baseline":"alphabetic","dx":30.4,"dy":-7},"encoding":{"x":{"datum":2.544,"type":"quantitative","axis":null},"y":{"datum":0.4273,"type":"quantitative","axis":null}}},
   {"data":{"values":[{}]},"mark":{"type":"text","text":"; c","fontSize":15,"fontStyle":"italic","align":"left","baseline":"alphabetic","dx":37.5},"encoding":{"x":{"datum":2.544,"type":"quantitative","axis":null},"y":{"datum":0.4273,"type":"quantitative","axis":null}}},
   {"data":{"values":[{}]},"mark":{"type":"text","text":"2","fontSize":11,"align":"left","baseline":"alphabetic","dx":56.5,"dy":-7},"encoding":{"x":{"datum":2.544,"type":"quantitative","axis":null},"y":{"datum":0.4273,"type":"quantitative","axis":null}}},
   {"data":{"values":[{}]},"mark":{"type":"text","text":"true","fontSize":11,"fontStyle":"italic","align":"left","baseline":"alphabetic","dx":56,"dy":4},"encoding":{"x":{"datum":2.544,"type":"quantitative","axis":null},"y":{"datum":0.4273,"type":"quantitative","axis":null}}},
   {"data":{"values":[{}]},"mark":{"type":"text","text":", 1)","fontSize":15,"align":"left","baseline":"alphabetic","dx":78.6},"encoding":{"x":{"datum":2.544,"type":"quantitative","axis":null},"y":{"datum":0.4273,"type":"quantitative","axis":null}}},
   {"data":{"values":[{}]},"mark":{"type":"text","text":"c","fontSize":20,"fontStyle":"italic","align":"left","baseline":"alphabetic"},"encoding":{"x":{"datum":-2.045,"type":"quantitative","axis":null},"y":{"datum":-0.1958,"type":"quantitative","axis":null}}},
   {"data":{"values":[{}]},"mark":{"type":"text","text":"2","fontSize":14,"align":"left","baseline":"alphabetic","dx":12,"dy":-9},"encoding":{"x":{"datum":-2.045,"type":"quantitative","axis":null},"y":{"datum":-0.1958,"type":"quantitative","axis":null}}},
   {"data":{"values":[{}]},"mark":{"type":"text","text":"MLE","fontSize":14,"align":"left","baseline":"alphabetic","dx":12.5,"dy":9},"encoding":{"x":{"datum":-2.045,"type":"quantitative","axis":null},"y":{"datum":-0.1958,"type":"quantitative","axis":null}}},
   {"data":{"values":[{}]},"mark":{"type":"text","text":"=","fontSize":20,"align":"left","baseline":"alphabetic","dx":50},"encoding":{"x":{"datum":-2.045,"type":"quantitative","axis":null},"y":{"datum":-0.1958,"type":"quantitative","axis":null}}},
   {"data":{"values":[{}]},"mark":{"type":"text","text":"argmin","fontSize":20,"align":"left","baseline":"alphabetic","dx":75},"encoding":{"x":{"datum":-2.045,"type":"quantitative","axis":null},"y":{"datum":-0.1958,"type":"quantitative","axis":null}}},
   {"data":{"values":[{}]},"mark":{"type":"text","text":"c²","fontSize":14,"fontStyle":"italic","align":"left","baseline":"alphabetic","dx":147.5,"dy":6},"encoding":{"x":{"datum":-2.045,"type":"quantitative","axis":null},"y":{"datum":-0.1958,"type":"quantitative","axis":null}}},
   {"data":{"values":[{}]},"mark":{"type":"text","text":"χ","fontSize":20,"fontStyle":"italic","align":"left","baseline":"alphabetic","dx":164},"encoding":{"x":{"datum":-2.045,"type":"quantitative","axis":null},"y":{"datum":-0.1958,"type":"quantitative","axis":null}}},
   {"data":{"values":[{}]},"mark":{"type":"text","text":"2","fontSize":14,"align":"left","baseline":"alphabetic","dx":177.5,"dy":-9},"encoding":{"x":{"datum":-2.045,"type":"quantitative","axis":null},"y":{"datum":-0.1958,"type":"quantitative","axis":null}}},
   {"data":{"values":[{}]},"mark":{"type":"text","text":"(","fontSize":26,"align":"left","baseline":"alphabetic","dx":187,"dy":2},"encoding":{"x":{"datum":-2.045,"type":"quantitative","axis":null},"y":{"datum":-0.1958,"type":"quantitative","axis":null}}},
   {"data":{"values":[{}]},"mark":{"type":"text","text":"x;","fontSize":20,"fontStyle":"italic","align":"left","baseline":"alphabetic","dx":197},"encoding":{"x":{"datum":-2.045,"type":"quantitative","axis":null},"y":{"datum":-0.1958,"type":"quantitative","axis":null}}},
   {"data":{"values":[{}]},"mark":{"type":"text","text":"√","fontSize":20,"align":"left","baseline":"alphabetic","dx":221},"encoding":{"x":{"datum":-2.045,"type":"quantitative","axis":null},"y":{"datum":-0.1958,"type":"quantitative","axis":null}}},
   {"data":{"values":[{}]},"mark":{"type":"text","text":"c","fontSize":20,"fontStyle":"italic","align":"left","baseline":"alphabetic","dx":236},"encoding":{"x":{"datum":-2.045,"type":"quantitative","axis":null},"y":{"datum":-0.1958,"type":"quantitative","axis":null}}},
   {"data":{"values":[{}]},"mark":{"type":"text","text":"2","fontSize":14,"align":"left","baseline":"alphabetic","dx":248,"dy":-8},"encoding":{"x":{"datum":-2.045,"type":"quantitative","axis":null},"y":{"datum":-0.1958,"type":"quantitative","axis":null}}},
   {"data":{"values":[{}]},"mark":{"type":"rule","stroke":"black","strokeWidth":1.2},"encoding":{"x":{"datum":4.575,"type":"quantitative","axis":null},"x2":{"datum":5.255},"y":{"datum":-0.1367,"type":"quantitative","axis":null}}},
   {"data":{"values":[{}]},"mark":{"type":"text","text":")","fontSize":26,"align":"left","baseline":"alphabetic","dx":259,"dy":2},"encoding":{"x":{"datum":-2.045,"type":"quantitative","axis":null},"y":{"datum":-0.1958,"type":"quantitative","axis":null}}}
  ]},
 {"width":290,"height":183,
  "resolve":{"axis":{"x":"independent","y":"independent"}},
  "layer":[
   {"data":{"name":"h6"},"mark":{"type":"bar","fill":"#4FCFFD","stroke":"#1FB6EE","strokeWidth":0.6,"clip":true},
    "encoding":{"x":{"field":"a","type":"quantitative","scale":{"domain":[0,4],"nice":false,"zero":false},"axis":{"orient":"bottom","values":[0,1,2,3,4],"title":null}},"x2":{"field":"b"},
     "y":{"field":"d","type":"quantitative","scale":{"type":"log","domain":[0.0112,5.18],"nice":false},"axis":{"orient":"left","values":[0.1,1],"tickSize":-6,"labels":false,"title":null}},"y2":{"datum":0.001}}},
   {"data":{"name":"chi"},"mark":{"type":"line","stroke":"#FF0000","strokeWidth":3.8,"strokeDash":[11,5],"interpolate":"monotone","clip":true},
    "encoding":{"x":{"field":"x","type":"quantitative","axis":{"orient":"top","values":[0,1,2,3,4],"labels":false,"title":null}},"y":{"field":"y","type":"quantitative","scale":{"type":"log"},"axis":{"orient":"right","values":[0.1,1],"tickSize":-6,"labels":false,"title":null}}}},
   {"data":{"values":[{}]},"mark":{"type":"rect","fill":"#4FCFFD"},"encoding":{"x":{"datum":2.004,"type":"quantitative","axis":null},"x2":{"datum":2.469},"y":{"datum":2.952,"type":"quantitative","scale":{"type":"log"},"axis":{"orient":"left","values":[0.02,0.03,0.04,0.05,0.06,0.07,0.08,0.09,0.2,0.3,0.4,0.5,0.6,0.7,0.8,0.9,2,3,4,5],"tickSize":-3,"labels":false,"title":null}},"y2":{"datum":2.021}}},
   {"data":{"values":[{}]},"mark":{"type":"rule","stroke":"#FF0000","strokeWidth":3.8,"strokeDash":[11,5]},"encoding":{"x":{"datum":2.004,"type":"quantitative","axis":null},"x2":{"datum":2.469},"y":{"datum":0.826,"type":"quantitative","scale":{"type":"log"},"axis":{"orient":"right","values":[0.02,0.03,0.04,0.05,0.06,0.07,0.08,0.09,0.2,0.3,0.4,0.5,0.6,0.7,0.8,0.9,2,3,4,5],"tickSize":-3,"labels":false,"title":null}}}},
   {"data":{"values":[{}]},"mark":{"type":"text","text":"Toys","fontSize":15,"align":"left","baseline":"alphabetic"},"encoding":{"x":{"datum":2.639,"type":"quantitative","axis":null},"y":{"datum":2.021,"type":"quantitative","scale":{"type":"log"},"axis":null}}},
   {"data":{"values":[{}]},"mark":{"type":"text","text":"p","fontSize":15,"fontStyle":"italic","align":"left","baseline":"alphabetic"},"encoding":{"x":{"datum":2.639,"type":"quantitative","axis":null},"y":{"datum":0.6755,"type":"quantitative","scale":{"type":"log"},"axis":null}}},
   {"data":{"values":[{}]},"mark":{"type":"text","text":"(1)","fontSize":10.5,"align":"left","baseline":"alphabetic","dx":9.5,"dy":-9},"encoding":{"x":{"datum":2.639,"type":"quantitative","axis":null},"y":{"datum":0.6755,"type":"quantitative","scale":{"type":"log"},"axis":null}}},
   {"data":{"values":[{}]},"mark":{"type":"text","text":"χ","fontSize":10,"fontStyle":"italic","align":"left","baseline":"alphabetic","dx":9.5,"dy":5},"encoding":{"x":{"datum":2.639,"type":"quantitative","axis":null},"y":{"datum":0.6755,"type":"quantitative","scale":{"type":"log"},"axis":null}}},
   {"data":{"values":[{}]},"mark":{"type":"text","text":"2","fontSize":7,"align":"left","baseline":"alphabetic","dx":15.5,"dy":1},"encoding":{"x":{"datum":2.639,"type":"quantitative","axis":null},"y":{"datum":0.6755,"type":"quantitative","scale":{"type":"log"},"axis":null}}},
   {"data":{"values":[{}]},"mark":{"type":"text","text":"(","fontSize":15,"align":"left","baseline":"alphabetic","dx":31.7},"encoding":{"x":{"datum":2.639,"type":"quantitative","axis":null},"y":{"datum":0.6755,"type":"quantitative","scale":{"type":"log"},"axis":null}}},
   {"data":{"values":[{}]},"mark":{"type":"text","text":"q","fontSize":15,"fontStyle":"italic","align":"left","baseline":"alphabetic","dx":37.5},"encoding":{"x":{"datum":2.639,"type":"quantitative","axis":null},"y":{"datum":0.6755,"type":"quantitative","scale":{"type":"log"},"axis":null}}},
   {"data":{"values":[{}]},"mark":{"type":"text","text":"c","fontSize":10.5,"fontStyle":"italic","align":"left","baseline":"alphabetic","dx":47.2,"dy":3},"encoding":{"x":{"datum":2.639,"type":"quantitative","axis":null},"y":{"datum":0.6755,"type":"quantitative","scale":{"type":"log"},"axis":null}}},
   {"data":{"values":[{}]},"mark":{"type":"text","text":"true","fontSize":7.5,"fontStyle":"italic","align":"left","baseline":"alphabetic","dx":53,"dy":6},"encoding":{"x":{"datum":2.639,"type":"quantitative","axis":null},"y":{"datum":0.6755,"type":"quantitative","scale":{"type":"log"},"axis":null}}},
   {"data":{"values":[{}]},"mark":{"type":"text","text":")","fontSize":15,"align":"left","baseline":"alphabetic","dx":70},"encoding":{"x":{"datum":2.639,"type":"quantitative","axis":null},"y":{"datum":0.6755,"type":"quantitative","scale":{"type":"log"},"axis":null}}},
   {"data":{"values":[{}]},"mark":{"type":"text","text":"q","fontSize":21,"fontStyle":"italic","align":"left","baseline":"alphabetic"},"encoding":{"x":{"datum":1.697,"type":"quantitative","axis":null},"y":{"datum":0.0024,"type":"quantitative","scale":{"type":"log"},"axis":null}}},
   {"data":{"values":[{}]},"mark":{"type":"text","text":"c","fontSize":15,"fontStyle":"italic","align":"left","baseline":"alphabetic","dx":13.5,"dy":3.5},"encoding":{"x":{"datum":1.697,"type":"quantitative","axis":null},"y":{"datum":0.0024,"type":"quantitative","scale":{"type":"log"},"axis":null}}},
   {"data":{"values":[{}]},"mark":{"type":"text","text":"true","fontSize":11,"fontStyle":"italic","align":"left","baseline":"alphabetic","dx":22,"dy":7.5},"encoding":{"x":{"datum":1.697,"type":"quantitative","axis":null},"y":{"datum":0.0024,"type":"quantitative","scale":{"type":"log"},"axis":null}}}
  ]}
]
}
